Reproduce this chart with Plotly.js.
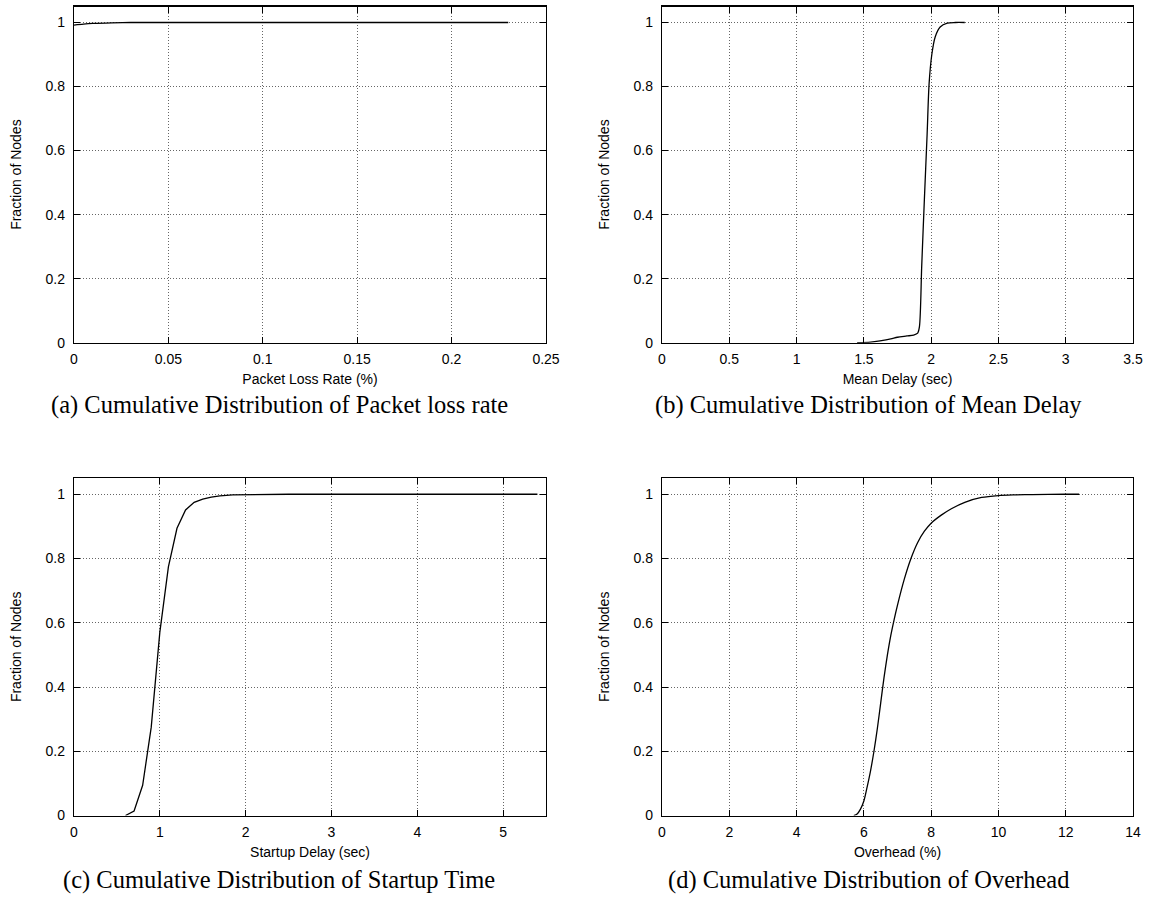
<!DOCTYPE html>
<html>
<head>
<meta charset="utf-8">
<script src="https://cdn.plot.ly/plotly-3.0.1.min.js"></script>
<style>html,body{margin:0;padding:0;background:#fff;}#chart{width:1151px;height:902px;}</style>
</head>
<body>
<div id="chart"></div>
<script>
// (a) Packet loss rate CDF
const lossX = [0, 0.005, 0.01, 0.02, 0.03, 0.05, 0.1, 0.15, 0.2, 0.23];
const lossY = [0.992, 0.995, 0.997, 0.999, 1.0, 1.0, 1.0, 1.0, 1.0, 1.0];
// (b) Mean delay CDF
const delayX = [1.45, 1.55, 1.62, 1.7, 1.75, 1.82, 1.87, 1.90, 1.913, 1.93, 1.95, 1.97, 1.985, 2.005, 2.03, 2.067, 2.12, 2.18, 2.25];
const delayY = [0, 0.002, 0.006, 0.012, 0.017, 0.021, 0.024, 0.03, 0.05, 0.24, 0.45, 0.65, 0.81, 0.90, 0.955, 0.986, 0.998, 1.0, 1.0];
// (c) Startup delay CDF
const startX = [0.6, 0.7, 0.8, 0.9, 1.0, 1.1, 1.2, 1.3, 1.4, 1.5, 1.6, 1.7, 1.85, 2.0, 2.5, 3.0, 4.0, 5.0, 5.4];
const startY = [0, 0.014, 0.094, 0.275, 0.57, 0.774, 0.894, 0.951, 0.975, 0.985, 0.991, 0.995, 0.998, 0.999, 1.0, 1.0, 1.0, 1.0, 1.0];
// (d) Overhead CDF
const ovhX = [5.7, 5.8, 5.9, 6.0, 6.1, 6.2, 6.3, 6.4, 6.5, 6.6, 6.7, 6.8, 6.9, 7.0, 7.2, 7.4, 7.6, 7.8, 8.0, 8.3, 8.6, 9.0, 9.5, 10.0, 10.5, 11.0, 12.0, 12.4];
const ovhY = [0, 0.005, 0.02, 0.045, 0.09, 0.14, 0.2, 0.27, 0.35, 0.43, 0.5, 0.56, 0.61, 0.655, 0.735, 0.8, 0.85, 0.885, 0.91, 0.935, 0.955, 0.975, 0.99, 0.996, 0.998, 0.999, 1.0, 1.0];

const xTitles = ["Packet Loss Rate (%)", "Mean Delay (sec)", "Startup Delay (sec)", "Overhead (%)"];
const yTitle = "Fraction of Nodes";
const captions = [
  "(a) Cumulative Distribution of Packet loss rate",
  "(b) Cumulative Distribution of Mean Delay",
  "(c) Cumulative Distribution of Startup Time",
  "(d) Cumulative Distribution of Overhead"
];
const xRanges = [[0, 0.25], [0, 3.5], [0, 5.5], [0, 14]];
const xDtick = [0.05, 0.5, 1, 2];

const W = 1151, H = 902;
const colDom = [[74 / W, 546 / W], [662 / W, 1133 / W]];
const rowDom = [[1 - 342.7 / H, 1 - 6.5 / H], [1 - 815.5 / H, 1 - 478.2 / H]];
const capX = [279 / W, 868 / W];
const capY = [1 - 405 / H, 1 - 880 / H];

const tickFont = {family: "Liberation Sans, Arial, sans-serif", size: 14, color: "#000"};
const titleFont = {family: "Liberation Sans, Arial, sans-serif", size: 14, color: "#000"};

function axisBase() {
  return {
    showline: true, linecolor: "#000", linewidth: 1.2, mirror: "ticks",
    ticks: "inside", ticklen: 6, tickcolor: "#000", tickwidth: 1,
    showgrid: true, gridcolor: "#666", griddash: "1px,2px", gridwidth: 1,
    zeroline: false, tickfont: tickFont, automargin: false, fixedrange: true
  };
}

const series = [[lossX, lossY], [delayX, delayY], [startX, startY], [ovhX, ovhY]];
const data = series.map((s, i) => ({
  x: s[0], y: s[1], type: "scatter", mode: "lines",
  line: {color: "#000", width: 1.3, shape: (i === 2 ? "linear" : "spline"), smoothing: 0.8},
  xaxis: "x" + (i === 0 ? "" : i + 1), yaxis: "y" + (i === 0 ? "" : i + 1),
  showlegend: false, hoverinfo: "x+y"
}));

const layout = {
  width: W, height: H,
  margin: {l: 0, r: 0, t: 0, b: 0},
  paper_bgcolor: "#fff", plot_bgcolor: "#fff",
  showlegend: false,
  annotations: []
};

for (let i = 0; i < 4; i++) {
  const col = i % 2, row = Math.floor(i / 2);
  const sfx = i === 0 ? "" : String(i + 1);
  layout["xaxis" + sfx] = Object.assign(axisBase(), {
    domain: colDom[col], range: xRanges[i], dtick: xDtick[i], tick0: 0,
    anchor: "y" + sfx, ticklabelstandoff: 3,
    title: {text: xTitles[i], font: titleFont, standoff: 8}
  });
  layout["yaxis" + sfx] = Object.assign(axisBase(), {
    domain: rowDom[row], range: [0, 1.05], dtick: 0.2, tick0: 0,
    anchor: "x" + sfx, ticklabelstandoff: 5,
    title: {text: yTitle, font: titleFont, standoff: 20}
  });
  layout.annotations.push({
    text: captions[i], xref: "paper", yref: "paper",
    x: capX[col], y: capY[row],
    xanchor: "center", yanchor: "middle", showarrow: false,
    font: {family: "Liberation Serif, Times New Roman, serif", size: 24.5, color: "#000"}
  });
}

Plotly.newPlot("chart", data, layout, {displayModeBar: false, staticPlot: true});
</script>
</body>
</html>
